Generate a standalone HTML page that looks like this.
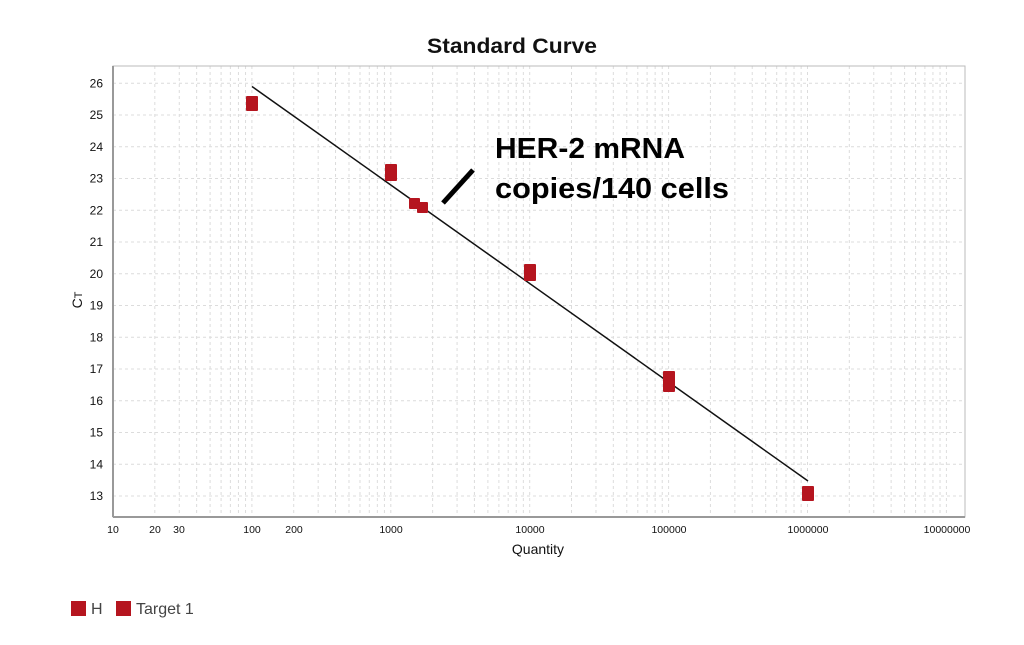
<!DOCTYPE html>
<html><head><meta charset="utf-8"><style>
body{margin:0;background:#fff;width:1024px;height:640px;overflow:hidden;font-family:"Liberation Sans",sans-serif}
</style></head><body>
<svg id="s" width="1024" height="640" xmlns="http://www.w3.org/2000/svg" font-family="Liberation Sans, sans-serif">
<rect width="1024" height="640" fill="#fff"/>
<g id="grid" stroke="#dcdcdc" stroke-width="1" stroke-dasharray="3,3"></g>
<rect x="113" y="66" width="852" height="451" fill="none" stroke="#bbb" stroke-width="1"/>
<line x1="113" y1="66" x2="113" y2="517" stroke="#999" stroke-width="2"/>
<line x1="113" y1="517" x2="965" y2="517" stroke="#999" stroke-width="2"/>
<text x="512" y="53" text-anchor="middle" font-size="21" font-weight="bold" fill="#111" textLength="170" lengthAdjust="spacingAndGlyphs">Standard Curve</text>
<g id="yl" font-size="12" fill="#111" text-anchor="end"></g>
<g font-size="10.5" fill="#111" text-anchor="middle">
<text x="113" y="533">10</text><text x="155" y="533">20</text><text x="179" y="533">30</text>
<text x="252" y="533">100</text><text x="294" y="533">200</text>
<text x="391" y="533">1000</text><text x="530" y="533">10000</text><text x="669" y="533">100000</text>
<text x="808" y="533">1000000</text><text x="947" y="533">10000000</text>
</g>
<text x="538" y="554" text-anchor="middle" font-size="14" fill="#111">Quantity</text>
<text transform="translate(82,300) rotate(-90)" text-anchor="middle" font-size="14" fill="#111">C<tspan font-size="11">T</tspan></text>
<line x1="252" y1="86.5" x2="808" y2="481" stroke="#111" stroke-width="1.5"/>
<g fill="#b5151f">
<rect x="246" y="96" width="12" height="15" rx="1"/>
<rect x="385" y="164" width="12" height="17" rx="1"/>
<rect x="409" y="198" width="11" height="11" rx="1"/>
<rect x="417" y="202" width="11" height="11" rx="1"/>
<rect x="524" y="264" width="12" height="17" rx="1"/>
<rect x="663" y="371" width="12" height="21" rx="1"/>
<rect x="802" y="486" width="12" height="15" rx="1"/>
</g>
<line x1="443" y1="203" x2="473" y2="170" stroke="#000" stroke-width="5"/>
<text x="495" y="158" font-size="29" font-weight="bold" fill="#000" textLength="190" lengthAdjust="spacingAndGlyphs">HER-2 mRNA</text>
<text x="495" y="198" font-size="29" font-weight="bold" fill="#000" textLength="234" lengthAdjust="spacingAndGlyphs">copies/140 cells</text>
<rect x="71" y="601" width="15" height="15" fill="#b5151f"/>
<text x="91" y="614" font-size="16" fill="#444">H</text>
<rect x="116" y="601" width="15" height="15" fill="#b5151f"/>
<text x="136" y="614" font-size="16" fill="#444">Target 1</text>
</svg>
<script>
var ns="http://www.w3.org/2000/svg",g=document.getElementById("grid"),yl=document.getElementById("yl");
function ln(a,b,c,d){var l=document.createElementNS(ns,"line");l.setAttribute("x1",a);l.setAttribute("y1",b);l.setAttribute("x2",c);l.setAttribute("y2",d);g.appendChild(l);}
for(var dcd=0;dcd<7;dcd++){for(var k=1;k<10;k++){var x=113+138.9*(dcd+Math.log10(k));if(x>113&&x<965)ln(x,66,x,517);}}
for(var c=13;c<=26;c++){var y=83.3+(26-c)*31.75;ln(113,y,965,y);var t=document.createElementNS(ns,"text");t.setAttribute("x",103);t.setAttribute("y",y+4);t.textContent=c;yl.appendChild(t);}
</script>
</body></html>
